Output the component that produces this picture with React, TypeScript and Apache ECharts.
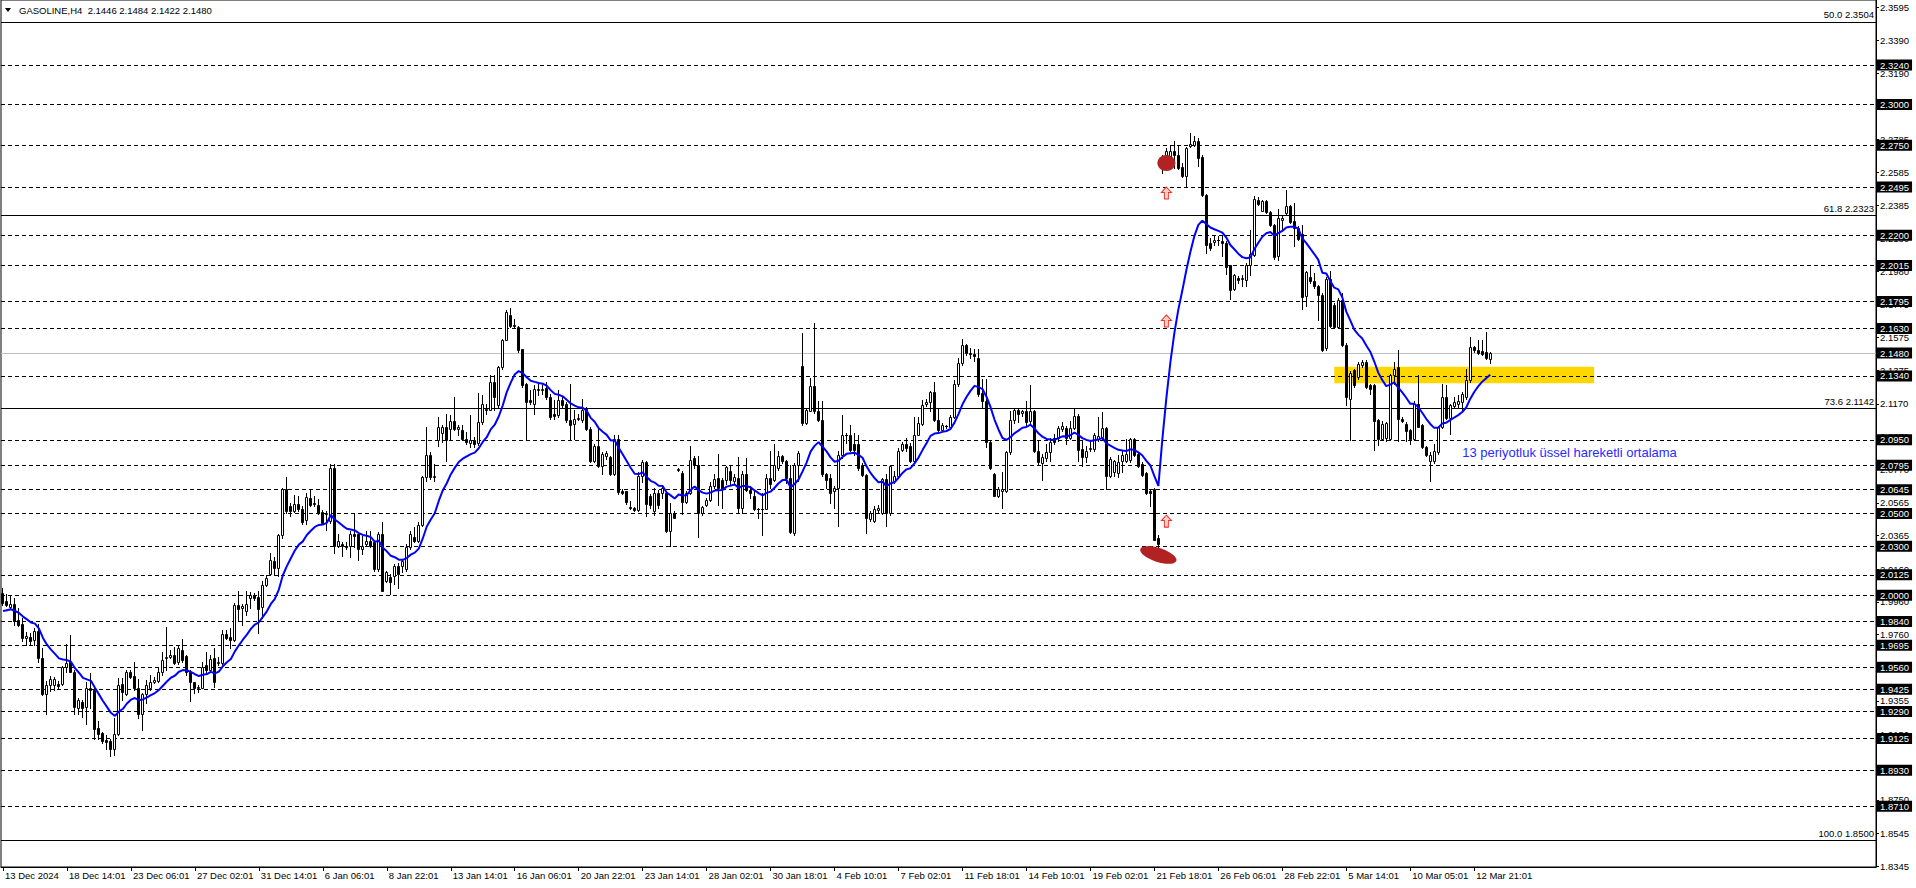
import React, { useEffect, useRef } from "react";
import * as echarts from "echarts";

const symbolName = "GASOLINE,H4";

const xLabels = [
  "13 Dec 2024", "18 Dec 14:01", "23 Dec 06:01", "27 Dec 02:01", "31 Dec 14:01", "6 Jan 06:01",
  "8 Jan 22:01", "13 Jan 14:01", "16 Jan 06:01", "20 Jan 22:01", "23 Jan 14:01", "28 Jan 02:01",
  "30 Jan 18:01", "4 Feb 10:01", "7 Feb 02:01", "11 Feb 18:01", "14 Feb 10:01", "19 Feb 02:01",
  "21 Feb 18:01", "26 Feb 06:01", "28 Feb 22:01", "5 Mar 14:01", "10 Mar 05:01", "12 Mar 21:01",
];
const barsPerLabel = 16;
const totalSlots = 469;

const yTicks = [
  2.3595, 2.3390, 2.3190, 2.2985, 2.2785, 2.2585, 2.2385, 2.2180, 2.1980, 2.1775, 2.1575, 2.1375,
  2.1170, 2.0970, 2.0770, 2.0565, 2.0365, 2.0160, 1.9960, 1.9760, 1.9555, 1.9355, 1.9150, 1.8950,
  1.8750, 1.8545, 1.8345,
];
const yMin = 1.8339;
const yMax = 2.3638;

const dashedLevels = [
  2.3240, 2.3000, 2.2750, 2.2495, 2.2200, 2.2015, 2.1795, 2.1630, 2.1340, 2.0950, 2.0795, 2.0645,
  2.0500, 2.0300, 2.0125, 2.0000, 1.9840, 1.9695, 1.9560, 1.9425, 1.9290, 1.9125, 1.8930, 1.8710,
];
const fibPercents = ["50.0", "61.8", "73.6", "100.0"];
const fibPrices = [2.3504, 2.2323, 2.1142, 1.8500];
const currentPrice = 2.1480;

const openPrices = [
  2.0013, 1.9967, 1.9928, 1.9948, 1.9850, 1.9823, 1.9737, 1.9746, 1.9727, 1.9782,
  1.9619, 1.9394, 1.9451, 1.9451, 1.9459, 1.9457, 1.9564, 1.9590, 1.9533, 1.9308,
  1.9345, 1.9318, 1.9431, 1.9421, 1.9189, 1.9159, 1.9114, 1.9108, 1.9059, 1.9149,
  1.9457, 1.9396, 1.9533, 1.9508, 1.9431, 1.9277, 1.9394, 1.9435, 1.9472, 1.9476,
  1.9529, 1.9615, 1.9625, 1.9635, 1.9594, 1.9666, 1.9629, 1.9533, 1.9468, 1.9431,
  1.9435, 1.9574, 1.9541, 1.9615, 1.9584, 1.9584, 1.9762, 1.9744, 1.9727, 1.9938,
  1.9922, 1.9905, 1.9983, 2.0003, 1.9987, 1.9926, 2.0065, 2.0130, 2.0212, 2.0167,
  2.0371, 2.0648, 2.0545, 2.0515, 2.0556, 2.0525, 2.0457, 2.0596, 2.0566, 2.0551,
  2.0510, 2.0494, 2.0453, 2.0780, 2.0302, 2.0313, 2.0302, 2.0302, 2.0374, 2.0374,
  2.0282, 2.0313, 2.0333, 2.0323, 2.0159, 2.0374, 2.0088, 2.0112, 2.0119, 2.0180,
  2.0180, 2.0159, 2.0292, 2.0357, 2.0333, 2.0431, 2.0721, 2.0860, 2.0721, 2.0946,
  2.0990, 2.1028, 2.1017, 2.1064, 2.1017, 2.1011, 2.0956, 2.0930, 2.0946, 2.0930,
  2.1058, 2.1130, 2.1134, 2.1303, 2.1160, 2.1395, 2.1563, 2.1712, 2.1651, 2.1640,
  2.1502, 2.1293, 2.1191, 2.1171, 2.1256, 2.1252, 2.1269, 2.1212, 2.1109, 2.1099,
  2.1191, 2.1171, 2.1069, 2.1044, 2.1079, 2.1069, 2.1140, 2.1017, 2.0823, 2.0915,
  2.0789, 2.0854, 2.0844, 2.0742, 2.0956, 2.0635, 2.0635, 2.0541, 2.0533, 2.0521,
  2.0731, 2.0813, 2.0605, 2.0514, 2.0626, 2.0626, 2.0626, 2.0392, 2.0504, 2.0770,
  2.0748, 2.0571, 2.0626, 2.0840, 2.0799, 2.0504, 2.0554, 2.0585, 2.0666, 2.0717,
  2.0707, 2.0707, 2.0758, 2.0697, 2.0717, 2.0534, 2.0742, 2.0646, 2.0605, 2.0530,
  2.0524, 2.0530, 2.0717, 2.0707, 2.0779, 2.0850, 2.0823, 2.0717, 2.0381, 2.0799,
  2.1400, 2.1054, 2.1125, 2.1278, 2.1129, 2.1074, 2.0738, 2.0717, 2.0640, 2.0656,
  2.0860, 2.0982, 2.0982, 2.0925, 2.0925, 2.0795, 2.0734, 2.0463, 2.0453, 2.0518,
  2.0504, 2.0713, 2.0504, 2.0697, 2.0728, 2.0890, 2.0925, 2.0911, 2.0819, 2.0982,
  2.1047, 2.1166, 2.1182, 2.1243, 2.1074, 2.1007, 2.1033, 2.1027, 2.1088, 2.1288,
  2.1420, 2.1528, 2.1478, 2.1476, 2.1452, 2.1238, 2.1188, 2.0934, 2.0741, 2.0609,
  2.0639, 2.0639, 2.0873, 2.1070, 2.1131, 2.1111, 2.1127, 2.1062, 2.1127, 2.0883,
  2.0806, 2.0838, 2.0873, 2.0964, 2.0960, 2.1015, 2.1021, 2.0964, 2.1025, 2.1096,
  2.0893, 2.0847, 2.0893, 2.0893, 2.0954, 2.0968, 2.1021, 2.0727, 2.0751, 2.0745,
  2.0822, 2.0822, 2.0826, 2.0954, 2.0863, 2.0802, 2.0745, 2.0635, 2.0650, 2.0351,
  2.2632, 2.2632, 2.2673, 2.2717, 2.2693, 2.2616, 2.2561, 2.2744, 2.2754, 2.2778,
  2.2677, 2.2448, 2.2153, 2.2159, 2.2173, 2.2163, 2.2153, 2.2016, 2.1873, 2.1939,
  2.1935, 2.1929, 2.2016, 2.2077, 2.2418, 2.2351, 2.2412, 2.2342, 2.2261, 2.2071,
  2.2296, 2.2336, 2.2377, 2.2285, 2.2245, 2.2208, 2.1827, 2.1943, 2.1918, 2.1888,
  2.1837, 2.1511, 2.1935, 2.1772, 2.1637, 2.1806, 2.1531, 2.1201, 2.1374, 2.1333,
  2.1405, 2.1425, 2.1282, 2.1282, 2.1071, 2.0954, 2.0958, 2.0954, 2.1344, 2.1395,
  2.1077, 2.1047, 2.1010, 2.0954, 2.1169, 2.1043, 2.0907, 2.0822, 2.0822, 2.0873,
  2.1026, 2.1210, 2.1083, 2.1159, 2.1169, 2.1180, 2.1210, 2.1313, 2.1517, 2.1497,
  2.1493, 2.1487, 2.1446,
];

const highPrices = [
  2.0044, 2.0007, 1.9999, 1.9983, 1.9922, 1.9860, 1.9778, 1.9768, 1.9799, 1.9823,
  1.9676, 1.9476, 1.9508, 1.9502, 1.9476, 1.9570, 1.9701, 1.9754, 1.9543, 1.9369,
  1.9359, 1.9472, 1.9527, 1.9431, 1.9230, 1.9165, 1.9144, 1.9120, 1.9251, 1.9496,
  1.9492, 1.9543, 1.9543, 1.9590, 1.9488, 1.9400, 1.9482, 1.9513, 1.9502, 1.9564,
  1.9652, 1.9803, 1.9666, 1.9686, 1.9692, 1.9733, 1.9635, 1.9543, 1.9472, 1.9451,
  1.9594, 1.9656, 1.9635, 1.9676, 1.9625, 1.9789, 1.9789, 1.9799, 1.9952, 2.0028,
  1.9946, 2.0024, 2.0020, 2.0013, 2.0024, 2.0085, 2.0126, 2.0259, 2.0232, 2.0376,
  2.0655, 2.0723, 2.0566, 2.0613, 2.0607, 2.0545, 2.0627, 2.0648, 2.0607, 2.0586,
  2.0519, 2.0515, 2.0801, 2.0801, 2.0374, 2.0323, 2.0323, 2.0394, 2.0496, 2.0384,
  2.0364, 2.0394, 2.0394, 2.0333, 2.0384, 2.0445, 2.0149, 2.0129, 2.0190, 2.0200,
  2.0221, 2.0313, 2.0394, 2.0415, 2.0445, 2.0731, 2.1028, 2.0874, 2.0803, 2.1089,
  2.1038, 2.1109, 2.1099, 2.1212, 2.1038, 2.1038, 2.0997, 2.1099, 2.0966, 2.1236,
  2.1222, 2.1171, 2.1344, 2.1344, 2.1399, 2.1569, 2.1743, 2.1753, 2.1691, 2.1644,
  2.1508, 2.1297, 2.1252, 2.1283, 2.1293, 2.1283, 2.1303, 2.1232, 2.1191, 2.1252,
  2.1212, 2.1181, 2.1293, 2.1130, 2.1109, 2.1201, 2.1150, 2.1028, 2.0926, 2.1028,
  2.0874, 2.0884, 2.0850, 2.0977, 2.0977, 2.0650, 2.0639, 2.0578, 2.0537, 2.0752,
  2.0827, 2.0823, 2.0616, 2.0656, 2.0646, 2.0666, 2.0636, 2.0565, 2.0514, 2.0779,
  2.0758, 2.0636, 2.0911, 2.0850, 2.0850, 2.0544, 2.0595, 2.0693, 2.0738, 2.0866,
  2.0717, 2.0789, 2.0789, 2.0738, 2.0844, 2.0758, 2.0840, 2.0666, 2.0636, 2.0534,
  2.0626, 2.0738, 2.0880, 2.0927, 2.0880, 2.0860, 2.0829, 2.0799, 2.0809, 2.0880,
  2.1604, 2.1139, 2.1328, 2.1665, 2.1190, 2.1190, 2.0748, 2.0738, 2.0666, 2.0880,
  2.1104, 2.0992, 2.1043, 2.0992, 2.0982, 2.0809, 2.0738, 2.0514, 2.0544, 2.0554,
  2.0717, 2.0738, 2.0799, 2.0762, 2.0901, 2.0937, 2.0958, 2.0931, 2.1088, 2.1088,
  2.1196, 2.1202, 2.1247, 2.1304, 2.1145, 2.1054, 2.1043, 2.1104, 2.1318, 2.1451,
  2.1569, 2.1536, 2.1512, 2.1503, 2.1503, 2.1320, 2.1320, 2.0944, 2.0745, 2.0660,
  2.0751, 2.0883, 2.1127, 2.1137, 2.1137, 2.1131, 2.1188, 2.1285, 2.1131, 2.0944,
  2.0863, 2.0924, 2.0964, 2.0985, 2.1035, 2.1056, 2.1035, 2.1066, 2.1141, 2.1107,
  2.0944, 2.0914, 2.0944, 2.0989, 2.1090, 2.1117, 2.1029, 2.0842, 2.0826, 2.0859,
  2.0883, 2.0954, 2.0960, 2.0958, 2.0873, 2.0812, 2.0751, 2.0650, 2.0654, 2.0371,
  2.2693, 2.2734, 2.2744, 2.2774, 2.2754, 2.2642, 2.2738, 2.2825, 2.2805, 2.2795,
  2.2693, 2.2453, 2.2183, 2.2204, 2.2194, 2.2194, 2.2163, 2.2020, 2.1963, 2.1949,
  2.1959, 2.2031, 2.2234, 2.2438, 2.2432, 2.2418, 2.2418, 2.2351, 2.2269, 2.2363,
  2.2326, 2.2479, 2.2387, 2.2397, 2.2255, 2.2265, 2.1984, 2.2020, 2.1969, 2.1898,
  2.1847, 2.1943, 2.1984, 2.1786, 2.1817, 2.1847, 2.1541, 2.1368, 2.1384, 2.1425,
  2.1436, 2.1436, 2.1292, 2.1292, 2.1077, 2.1067, 2.1057, 2.1354, 2.1425, 2.1501,
  2.1087, 2.1057, 2.1016, 2.1190, 2.1344, 2.1047, 2.0914, 2.0873, 2.0924, 2.1036,
  2.1292, 2.1282, 2.1169, 2.1210, 2.1221, 2.1241, 2.1384, 2.1579, 2.1521, 2.1558,
  2.1558, 2.1610, 2.1484,
];

const lowPrices = [
  1.9938, 1.9932, 1.9922, 1.9819, 1.9809, 1.9721, 1.9697, 1.9697, 1.9697, 1.9594,
  1.9390, 1.9277, 1.9414, 1.9421, 1.9427, 1.9451, 1.9533, 1.9529, 1.9277, 1.9277,
  1.9257, 1.9216, 1.9308, 1.9124, 1.9124, 1.9094, 1.9063, 1.9018, 1.9026, 1.9144,
  1.9359, 1.9390, 1.9492, 1.9421, 1.9247, 1.9175, 1.9339, 1.9421, 1.9462, 1.9468,
  1.9513, 1.9543, 1.9615, 1.9578, 1.9578, 1.9594, 1.9513, 1.9353, 1.9400, 1.9410,
  1.9431, 1.9533, 1.9533, 1.9441, 1.9574, 1.9574, 1.9733, 1.9676, 1.9721, 1.9840,
  1.9819, 1.9881, 1.9922, 1.9973, 1.9768, 1.9860, 2.0054, 2.0126, 2.0126, 2.0116,
  2.0347, 2.0504, 2.0484, 2.0511, 2.0515, 2.0437, 2.0433, 2.0545, 2.0545, 2.0498,
  2.0433, 2.0396, 2.0443, 2.0259, 2.0292, 2.0241, 2.0282, 2.0231, 2.0292, 2.0215,
  2.0251, 2.0302, 2.0292, 2.0149, 2.0149, 2.0023, 2.0078, 2.0006, 2.0068, 2.0047,
  2.0139, 2.0149, 2.0282, 2.0323, 2.0323, 2.0425, 2.0701, 2.0711, 2.0701, 2.0915,
  2.0936, 2.0823, 2.0946, 2.1007, 2.0977, 2.0946, 2.0926, 2.0905, 2.0905, 2.0921,
  2.1048, 2.1109, 2.1130, 2.1130, 2.1150, 2.1385, 2.1559, 2.1640, 2.1640, 2.1487,
  2.1273, 2.0956, 2.1171, 2.1109, 2.1222, 2.1232, 2.1201, 2.1079, 2.1079, 2.1089,
  2.1150, 2.1058, 2.0956, 2.0956, 2.1069, 2.1058, 2.1007, 2.0813, 2.0813, 2.0782,
  2.0742, 2.0834, 2.0737, 2.0737, 2.0619, 2.0619, 2.0558, 2.0527, 2.0513, 2.0517,
  2.0690, 2.0486, 2.0534, 2.0493, 2.0534, 2.0595, 2.0388, 2.0300, 2.0469, 2.0762,
  2.0497, 2.0565, 2.0616, 2.0780, 2.0355, 2.0493, 2.0544, 2.0575, 2.0656, 2.0554,
  2.0534, 2.0677, 2.0677, 2.0677, 2.0504, 2.0504, 2.0636, 2.0595, 2.0520, 2.0469,
  2.0367, 2.0524, 2.0656, 2.0697, 2.0768, 2.0809, 2.0687, 2.0381, 2.0367, 2.0697,
  2.1043, 2.1047, 2.1125, 2.1115, 2.1064, 2.0728, 2.0656, 2.0565, 2.0534, 2.0422,
  2.0840, 2.0931, 2.0880, 2.0860, 2.0768, 2.0728, 2.0381, 2.0453, 2.0449, 2.0504,
  2.0497, 2.0422, 2.0493, 2.0687, 2.0717, 2.0880, 2.0880, 2.0813, 2.0815, 2.0978,
  2.1039, 2.1155, 2.1125, 2.1064, 2.1003, 2.1003, 2.1023, 2.1023, 2.1084, 2.1278,
  2.1410, 2.1471, 2.1451, 2.1431, 2.1218, 2.1147, 2.0903, 2.0771, 2.0605, 2.0599,
  2.0534, 2.0629, 2.0863, 2.1050, 2.1056, 2.1096, 2.1035, 2.1050, 2.0873, 2.0802,
  2.0704, 2.0822, 2.0822, 2.0924, 2.0944, 2.1005, 2.0924, 2.0954, 2.1015, 2.0822,
  2.0792, 2.0812, 2.0883, 2.0883, 2.0944, 2.0954, 2.0650, 2.0720, 2.0731, 2.0720,
  2.0751, 2.0812, 2.0812, 2.0853, 2.0781, 2.0731, 2.0619, 2.0548, 2.0335, 2.0227,
  2.2581, 2.2607, 2.2611, 2.2611, 2.2607, 2.2554, 2.2493, 2.2738, 2.2744, 2.2622,
  2.2438, 2.2092, 2.2112, 2.2143, 2.2143, 2.2071, 2.1963, 2.1813, 2.1867, 2.1908,
  2.1888, 2.1888, 2.1959, 2.2071, 2.2387, 2.2346, 2.2336, 2.2255, 2.2057, 2.2051,
  2.2234, 2.2326, 2.2275, 2.2132, 2.2173, 2.1751, 2.1766, 2.1908, 2.1878, 2.1684,
  2.1495, 2.1501, 2.1637, 2.1633, 2.1633, 2.1521, 2.1164, 2.0950, 2.1272, 2.1323,
  2.1395, 2.1268, 2.1231, 2.0887, 2.0920, 2.0948, 2.0944, 2.0948, 2.1292, 2.0944,
  2.1057, 2.0944, 2.0924, 2.0948, 2.1026, 2.0899, 2.0852, 2.0699, 2.0811, 2.0866,
  2.1022, 2.1077, 2.0985, 2.1149, 2.1149, 2.1118, 2.1200, 2.1303, 2.1487, 2.1472,
  2.1466, 2.1446, 2.1422,
];

const closePrices = [
  1.9952, 1.9942, 1.9948, 1.9840, 1.9819, 1.9737, 1.9750, 1.9721, 1.9784, 1.9615,
  1.9394, 1.9451, 1.9486, 1.9488, 1.9447, 1.9564, 1.9584, 1.9533, 1.9318, 1.9359,
  1.9308, 1.9431, 1.9421, 1.9185, 1.9149, 1.9108, 1.9104, 1.9063, 1.9149, 1.9451,
  1.9406, 1.9533, 1.9502, 1.9431, 1.9277, 1.9394, 1.9451, 1.9468, 1.9480, 1.9533,
  1.9605, 1.9625, 1.9635, 1.9584, 1.9676, 1.9605, 1.9529, 1.9472, 1.9435, 1.9439,
  1.9564, 1.9543, 1.9611, 1.9468, 1.9594, 1.9764, 1.9737, 1.9727, 1.9938, 1.9918,
  1.9932, 1.9946, 2.0003, 1.9983, 1.9918, 2.0065, 2.0106, 2.0218, 2.0167, 2.0371,
  2.0648, 2.0515, 2.0515, 2.0556, 2.0525, 2.0449, 2.0601, 2.0551, 2.0556, 2.0504,
  2.0443, 2.0504, 2.0780, 2.0300, 2.0333, 2.0302, 2.0297, 2.0374, 2.0364, 2.0282,
  2.0302, 2.0333, 2.0302, 2.0159, 2.0374, 2.0027, 2.0139, 2.0078, 2.0180, 2.0129,
  2.0210, 2.0292, 2.0374, 2.0333, 2.0431, 2.0721, 2.0860, 2.0721, 2.0726, 2.1028,
  2.1028, 2.0946, 2.1064, 2.1017, 2.1028, 2.0956, 2.0936, 2.0946, 2.0926, 2.1058,
  2.1167, 2.1140, 2.1303, 2.1212, 2.1395, 2.1563, 2.1732, 2.1644, 2.1647, 2.1497,
  2.1283, 2.1181, 2.1181, 2.1263, 2.1260, 2.1263, 2.1212, 2.1089, 2.1093, 2.1191,
  2.1160, 2.1069, 2.1038, 2.1079, 2.1083, 2.1134, 2.1017, 2.0823, 2.0915, 2.0789,
  2.0864, 2.0868, 2.0742, 2.0956, 2.0629, 2.0623, 2.0568, 2.0533, 2.0521, 2.0731,
  2.0813, 2.0558, 2.0554, 2.0626, 2.0554, 2.0656, 2.0392, 2.0504, 2.0473, 2.0764,
  2.0571, 2.0626, 2.0829, 2.0799, 2.0504, 2.0538, 2.0585, 2.0666, 2.0713, 2.0656,
  2.0652, 2.0785, 2.0707, 2.0721, 2.0534, 2.0742, 2.0646, 2.0626, 2.0524, 2.0524,
  2.0530, 2.0717, 2.0677, 2.0799, 2.0850, 2.0819, 2.0717, 2.0388, 2.0799, 2.0870,
  2.1054, 2.1135, 2.1278, 2.1125, 2.1074, 2.0738, 2.0707, 2.0626, 2.0656, 2.0860,
  2.0982, 2.0978, 2.0890, 2.0890, 2.0779, 2.0734, 2.0473, 2.0504, 2.0530, 2.0534,
  2.0713, 2.0504, 2.0789, 2.0728, 2.0884, 2.0925, 2.0901, 2.0819, 2.0982, 2.1054,
  2.1161, 2.1182, 2.1243, 2.1074, 2.1007, 2.1043, 2.1037, 2.1088, 2.1288, 2.1420,
  2.1528, 2.1481, 2.1472, 2.1462, 2.1228, 2.1188, 2.0934, 2.0777, 2.0609, 2.0650,
  2.0650, 2.0873, 2.1070, 2.1131, 2.1107, 2.1127, 2.1056, 2.1127, 2.0883, 2.0812,
  2.0842, 2.0873, 2.0934, 2.0934, 2.1025, 2.1035, 2.0964, 2.1025, 2.1096, 2.0887,
  2.0847, 2.0883, 2.0899, 2.0981, 2.0974, 2.1021, 2.0727, 2.0832, 2.0822, 2.0816,
  2.0859, 2.0863, 2.0954, 2.0859, 2.0792, 2.0737, 2.0623, 2.0623, 2.0339, 2.0314,
  2.2677, 2.2713, 2.2717, 2.2689, 2.2611, 2.2561, 2.2734, 2.2758, 2.2778, 2.2673,
  2.2444, 2.2143, 2.2122, 2.2173, 2.2169, 2.2153, 2.2006, 2.1867, 2.1955, 2.1929,
  2.1939, 2.2020, 2.2086, 2.2424, 2.2391, 2.2412, 2.2342, 2.2261, 2.2065, 2.2306,
  2.2306, 2.2377, 2.2281, 2.2245, 2.2179, 2.1821, 2.1975, 2.1918, 2.1888, 2.1837,
  2.1501, 2.1935, 2.1643, 2.1637, 2.1806, 2.1531, 2.1209, 2.1358, 2.1282, 2.1411,
  2.1425, 2.1272, 2.1262, 2.1067, 2.0954, 2.1047, 2.1051, 2.1344, 2.1384, 2.1077,
  2.1067, 2.1006, 2.0954, 2.1169, 2.1030, 2.0903, 2.0858, 2.0858, 2.0879, 2.1026,
  2.1210, 2.1083, 2.1165, 2.1180, 2.1190, 2.1231, 2.1313, 2.1517, 2.1497, 2.1481,
  2.1476, 2.1452, 2.1480,
];

// 13-period exponential moving average, continuing from its value before the first visible bar
const emaPeriod = 13;
const emaBeforeFirstBar = 1.9895;

// annotations (bar index, price)
const zoneStartBar = 333;
const zoneEndBar = 398;
const zoneTop = 2.1397;
const zoneBottom = 2.1295;
const topEllipse = [291, 2.2642];
const bottomEllipse = [289, 2.0246];
const arrowBar = 291;
const arrowPrices = [2.2458, 2.1676, 2.0453];
const noteBar = 365;
const notePrice = 2.0875;
const noteText = "13 periyotluk üssel hareketli ortalama";

const FONT = "'Liberation Sans', Arial, sans-serif";

function buildOption() {
  const k = 2 / (emaPeriod + 1);
  let prev = emaBeforeFirstBar;
  const emaValues = closePrices.map((c) => {
    prev = prev + k * (c - prev);
    return +prev.toFixed(5);
  });

  const categories = Array.from({ length: totalSlots }, (_, i) => String(i));
  const showLabel = (i: number) => i % barsPerLabel === 0 && i / barsPerLabel < xLabels.length;

  const candleData = openPrices.map((o, i) => [i, o, closePrices[i], lowPrices[i], highPrices[i]]);

  const last = openPrices.length - 1;
  const headerText =
    `${symbolName}  ${openPrices[last].toFixed(4)} ${highPrices[last].toFixed(4)} ` +
    `${lowPrices[last].toFixed(4)} ${closePrices[last].toFixed(4)}`;

  const boxLabel = (v: number) => ({
    show: true,
    position: "end",
    formatter: v.toFixed(4),
    color: "#fff",
    backgroundColor: "#000",
    padding: [1, 3, 0, 3],
    fontSize: 9.5,
    lineHeight: 10,
    distance: 1,
    fontFamily: FONT,
  });

  const markLines: any[] = [
    ...dashedLevels.map((v) => ({
      yAxis: v,
      lineStyle: { type: [4, 3], color: "#000", width: 1 },
      label: boxLabel(v),
    })),
    {
      yAxis: currentPrice,
      lineStyle: { type: "solid", color: "#c0c0c0", width: 1 },
      label: boxLabel(currentPrice),
    },
    ...fibPrices.map((v, j) => ({
      yAxis: v,
      lineStyle: { type: "solid", color: "#000", width: 1 },
      label: {
        show: true,
        position: "insideEndTop",
        formatter: `${fibPercents[j]} ${v.toFixed(4)}`,
        color: "#000",
        fontSize: 9.5,
        distance: 2,
        fontFamily: FONT,
      },
    })),
  ];

  const arrowPath = "path://M5,0L10,5L7,5L7,11L3,11L3,5L0,5Z";

  return {
    animation: false,
    backgroundColor: "#fff",
    textStyle: { fontFamily: FONT },
    grid: { left: 1, right: 40, top: 0, bottom: 21, show: true, borderColor: "#000", borderWidth: 1, backgroundColor: "#fff" },
    xAxis: {
      type: "category",
      data: categories,
      boundaryGap: true,
      axisLine: { show: true, lineStyle: { color: "#000", width: 1 } },
      axisTick: { show: true, interval: (i: number) => showLabel(i), alignWithLabel: true, length: 4, lineStyle: { color: "#000" } },
      axisLabel: {
        show: true,
        interval: (i: number) => showLabel(i),
        formatter: (_v: string, i: number) => (showLabel(i) ? xLabels[i / barsPerLabel] : ""),
        align: "left",
        margin: 3,
        padding: [0, 0, 0, 2],
        fontSize: 9.5,
        color: "#000",
        fontFamily: FONT,
      },
      splitLine: { show: false },
    },
    yAxis: {
      type: "value",
      position: "right",
      min: yMin,
      max: yMax,
      axisLine: { show: true, lineStyle: { color: "#000", width: 1 } },
      axisTick: { show: true, customValues: yTicks, length: 3, lineStyle: { color: "#000" } },
      axisLabel: {
        show: true,
        customValues: yTicks,
        formatter: (v: number) => v.toFixed(4),
        margin: 4,
        fontSize: 9.5,
        color: "#000",
        fontFamily: FONT,
      },
      splitLine: { show: false },
    },
    graphic: [
      { type: "polygon", shape: { points: [[5, 8], [11, 8], [8, 12]] }, style: { fill: "#000" } },
      { type: "text", left: 19, top: 5, style: { text: headerText, font: `9.5px ${FONT}`, fill: "#000" } },
    ],
    series: [
      {
        type: "line",
        name: "zone",
        data: [],
        z: 1,
        markArea: {
          silent: true,
          z: 1,
          itemStyle: { color: "#FFD700" },
          data: [[{ coord: [zoneStartBar, zoneTop] }, { coord: [zoneEndBar, zoneBottom] }]],
        },
      },
      {
        type: "line",
        name: "levels",
        data: [],
        z: 2,
        markLine: { silent: true, z: 2, precision: 4, symbol: ["none", "none"], animation: false, data: markLines },
      },
      {
        type: "custom",
        name: "candles",
        z: 3,
        clip: false,
        data: candleData,
        encode: { x: 0, y: [1, 2, 3, 4] },
        renderItem: (_params: any, api: any) => {
          const i = api.value(0);
          const o = api.value(1);
          const c = api.value(2);
          const l = api.value(3);
          const h = api.value(4);
          const pO = api.coord([i, o]);
          const pC = api.coord([i, c]);
          const pL = api.coord([i, l]);
          const pH = api.coord([i, h]);
          const cx = Math.floor(pO[0]) + 0.5;
          const yTop = Math.round(Math.min(pO[1], pC[1])) + 0.5;
          const yBot = Math.round(Math.max(pO[1], pC[1])) + 0.5;
          const bull = c >= o;
          const children: any[] = [
            {
              type: "line",
              shape: { x1: cx, y1: Math.round(pH[1]), x2: cx, y2: Math.round(pL[1]) + 1 },
              style: { stroke: "#000", lineWidth: 1 },
            },
          ];
          if (yBot - yTop < 1) {
            children.push({
              type: "line",
              shape: { x1: cx - 1.5, y1: yTop, x2: cx + 1.5, y2: yTop },
              style: { stroke: "#000", lineWidth: 1 },
            });
          } else {
            children.push({
              type: "rect",
              shape: { x: cx - 1, y: yTop, width: 2, height: yBot - yTop },
              style: { fill: bull ? "#fff" : "#000", stroke: "#000", lineWidth: 1 },
            });
          }
          return { type: "group", children };
        },
      },
      {
        type: "line",
        name: "EMA 13",
        data: emaValues,
        z: 4,
        symbol: "none",
        showSymbol: false,
        lineStyle: { color: "#0000ff", width: 2 },
        markPoint: {
          silent: true,
          z: 5,
          animation: false,
          data: [
            { coord: topEllipse, symbol: "circle", symbolSize: [18, 16], itemStyle: { color: "#B22222" }, label: { show: false } },
            { coord: bottomEllipse, symbol: "circle", symbolSize: [38, 14], symbolRotate: -18, itemStyle: { color: "#B22222" }, label: { show: false } },
            ...arrowPrices.map((p) => ({
              coord: [arrowBar, p],
              symbol: arrowPath,
              symbolSize: [10, 12],
              itemStyle: { color: "#ffd8c8", borderColor: "#ff2a2a", borderWidth: 1 },
              label: { show: false },
            })),
            {
              coord: [noteBar, notePrice],
              symbol: "circle",
              symbolSize: 0,
              label: { show: true, position: "right", distance: 0, formatter: noteText, color: "#2a2aff", fontSize: 13, fontFamily: FONT },
            },
          ],
        },
      },
    ],
  };
}

export default function App() {
  const ref = useRef<HTMLDivElement>(null);
  useEffect(() => {
    if (!ref.current) return;
    const chart = echarts.init(ref.current, undefined, { renderer: "svg" });
    chart.setOption(buildOption() as any);
    return () => chart.dispose();
  }, []);
  return (
    <div
      ref={ref}
      style={{ position: "absolute", left: 0, top: 0, width: 1916, height: 888, background: "#fff" }}
    />
  );
}
